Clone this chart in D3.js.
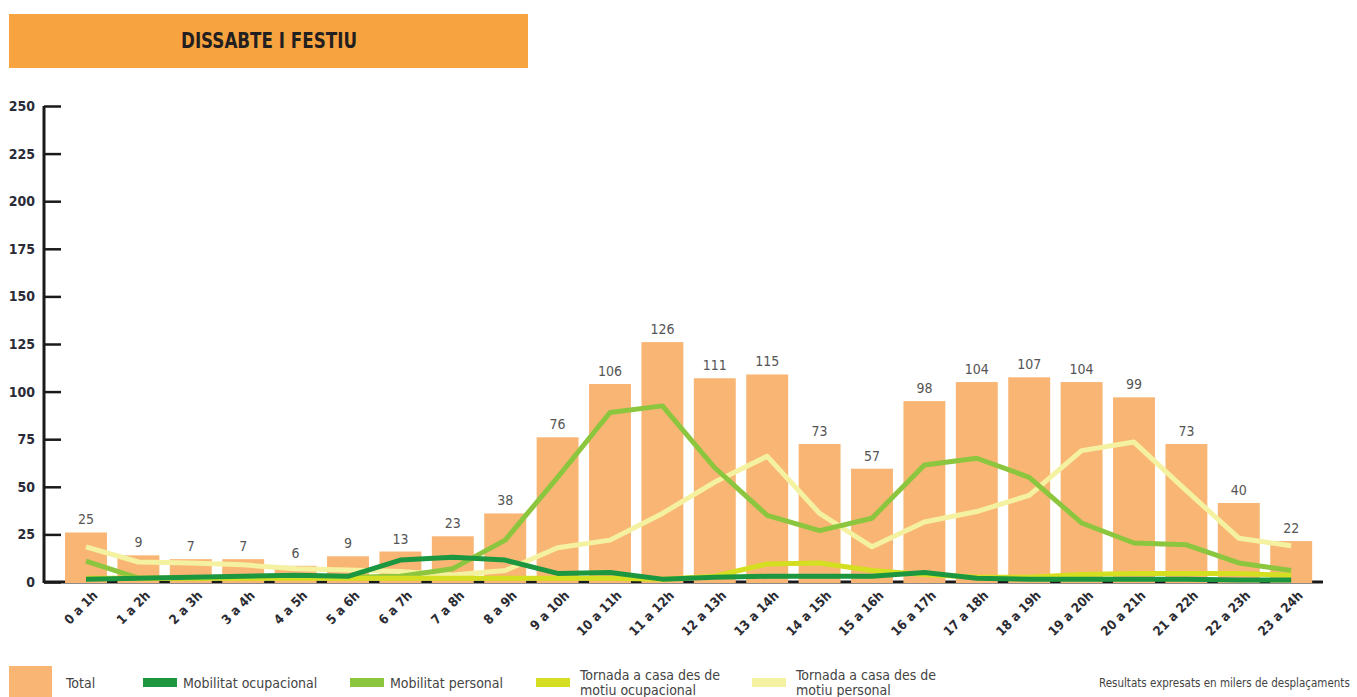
<!DOCTYPE html>
<html>
<head>
<meta charset="utf-8">
<script src="https://cdn.jsdelivr.net/npm/d3@7"></script>
<style>
  html, body { margin: 0; padding: 0; background: #fff; }
  svg { display: block; }
  .cond { font-family: "Liberation Sans Narrow", "DejaVu Sans Condensed", "Roboto", sans-serif; }
</style>
</head>
<body>
<svg id="chart" width="1357" height="697"></svg>
<script>
// ---- data ----
const title = "DISSABTE I FESTIU";
const hours = ["0 a 1h","1 a 2h","2 a 3h","3 a 4h","4 a 5h","5 a 6h","6 a 7h","7 a 8h","8 a 9h","9 a 10h","10 a 11h","11 a 12h",
               "12 a 13h","13 a 14h","14 a 15h","15 a 16h","16 a 17h","17 a 18h","18 a 19h","19 a 20h","20 a 21h","21 a 22h","22 a 23h","23 a 24h"];
// total labels as printed
const totalLabels = [25,9,7,7,6,9,13,23,38,76,106,126,111,115,73,57,98,104,107,104,99,73,40,22];
// total bar heights as drawn
const totalBars = [26,14,12,12,8.5,13.5,16,24,36,76,104,126,107,109,72.5,59.5,95,105,107.5,105,97,72.5,41.5,21.5];
const mobOcupacional = [1.5,2,2.5,3,3.5,3,11.5,13,11.5,4.5,5,1.5,2.5,3,3,3,5,2,1.5,1.5,1.5,1.5,1,1];
const mobPersonal = [11,2,2,2.5,2.5,2.5,3,7,22,55,89,92.5,60,35,27,33.5,61.5,65,55,31,20.5,19.5,10,6];
const tornadaOcupacional = [2,2,2,2,2,2,2,2,2,2,2,1.5,3,9.5,10,6,4,2.5,2.5,4,4.5,4.5,4.5,3.5];
const tornadaPersonal = [18.5,10.5,10,9,7,6.3,5.5,3.7,6,18,22,36,52.5,66,36,18.5,31.5,37,45.5,69,73.5,48,23,19];
const yTicks = [0,25,50,75,100,125,150,175,200,225,250];
const seriesNames = ["Mobilitat ocupacional","Mobilitat personal","Tornada a casa des de motiu ocupacional","Tornada a casa des de motiu personal"];
const note = "Resultats expresats en milers de desplaçaments";

// ---- styles ----
const colors = {
  title: "#F7A440", bar: "#F9B574",
  mobOcup: "#1C9740", mobPers: "#8CC63F", torOcup: "#D4DF22", torPers: "#F4F2A0"
};

const svg = d3.select("#chart");

// title box
svg.append("rect").attr("x", 9).attr("y", 14).attr("width", 519).attr("height", 54).attr("fill", colors.title);
svg.append("text").attr("class", "cond").attr("x", 181).attr("y", 48)
  .attr("font-size", 22).attr("font-weight", "bold")
  .attr("textLength", 176).attr("lengthAdjust", "spacingAndGlyphs")
  .attr("fill", "#231F20").text(title);

// scales
const y = d3.scaleLinear().domain([0, 250]).range([582, 106]);
const x = d3.scaleBand().domain(hours).range([59.8, 1317.4]).paddingInner(0.2).paddingOuter(0.1);
const cx = d => x(d) + x.bandwidth() / 2;

// x axis line (behind bars)
svg.append("line").attr("x1", 44).attr("x2", 1323).attr("y1", 582).attr("y2", 582)
  .attr("stroke", "#1a1a1a").attr("stroke-width", 3);

// bars
svg.append("g").selectAll("rect").data(hours).join("rect")
  .attr("x", d => x(d)).attr("width", x.bandwidth())
  .attr("y", (d, i) => y(totalBars[i]))
  .attr("height", (d, i) => y(0) - y(totalBars[i]) + 1)
  .attr("fill", colors.bar);

// bar labels
svg.append("g").selectAll("text").data(hours).join("text")
  .attr("class", "cond")
  .attr("x", d => cx(d)).attr("y", (d, i) => y(totalBars[i]) - 8)
  .attr("text-anchor", "middle").attr("font-size", 14).attr("fill", "#555")
  .text((d, i) => totalLabels[i]);

// lines
const lineGen = arr => d3.line().x((d, i) => cx(hours[i])).y(d => y(d))(arr);
const series = [
  [tornadaPersonal, colors.torPers],
  [mobPersonal, colors.mobPers],
  [tornadaOcupacional, colors.torOcup],
  [mobOcupacional, colors.mobOcup]
];
svg.append("g").selectAll("path").data(series).join("path")
  .attr("d", d => lineGen(d[0])).attr("fill", "none")
  .attr("stroke", d => d[1]).attr("stroke-width", 5)
  .attr("stroke-linejoin", "round").attr("stroke-linecap", "butt");

// y axis
const yAxis = d3.axisLeft(y).tickValues(yTicks).tickSize(0).tickPadding(9);
const gy = svg.append("g").attr("transform", "translate(44,0)").call(yAxis);
gy.select(".domain").remove();
gy.selectAll("text").attr("class", "cond").attr("font-size", 14).attr("font-weight", "bold").attr("fill", "#2B2B38");
gy.append("line").attr("x1", 0).attr("x2", 0).attr("y1", 106).attr("y2", 583).attr("stroke", "#1a1a1a").attr("stroke-width", 3);
gy.selectAll(".tick").append("line").attr("x1", 0).attr("x2", 17).attr("stroke", "#1a1a1a").attr("stroke-width", 2.5);

// x labels
svg.append("g").selectAll("text").data(hours).join("text")
  .attr("class", "cond")
  .attr("transform", d => `translate(${cx(d) + 6},${590}) rotate(-45)`)
  .attr("text-anchor", "end").attr("dy", "0.7em")
  .attr("font-size", 13).attr("font-weight", "bold").attr("fill", "#2B2B33")
  .text(d => d);

// legend
const leg = svg.append("g").attr("class", "cond").attr("font-size", 14).attr("fill", "#444");
leg.append("rect").attr("x", 9).attr("y", 666).attr("width", 43).attr("height", 31).attr("fill", colors.bar);
leg.append("text").attr("x", 66).attr("y", 688).text("Total");
const legItems = [
  {x: 143, color: colors.mobOcup, lines: [seriesNames[0]]},
  {x: 350, color: colors.mobPers, lines: [seriesNames[1]]},
  {x: 536, color: colors.torOcup, lines: ["Tornada a casa des de", "motiu ocupacional"]},
  {x: 752, color: colors.torPers, lines: ["Tornada a casa des de", "motiu personal"]}
];
legItems.forEach(it => {
  leg.append("rect").attr("x", it.x).attr("y", 678).attr("width", 34).attr("height", 9).attr("fill", it.color);
  const tx = it.x + (it.lines.length > 1 ? 44 : 40);
  const t = leg.append("text").attr("x", tx).attr("y", it.lines.length > 1 ? 680 : 688);
  it.lines.forEach((l, k) => t.append("tspan").attr("x", tx).attr("dy", k === 0 ? 0 : 15).text(l));
});
leg.append("text").attr("x", 1099).attr("y", 687).attr("font-size", 11.5).text(note);
</script>
</body>
</html>
